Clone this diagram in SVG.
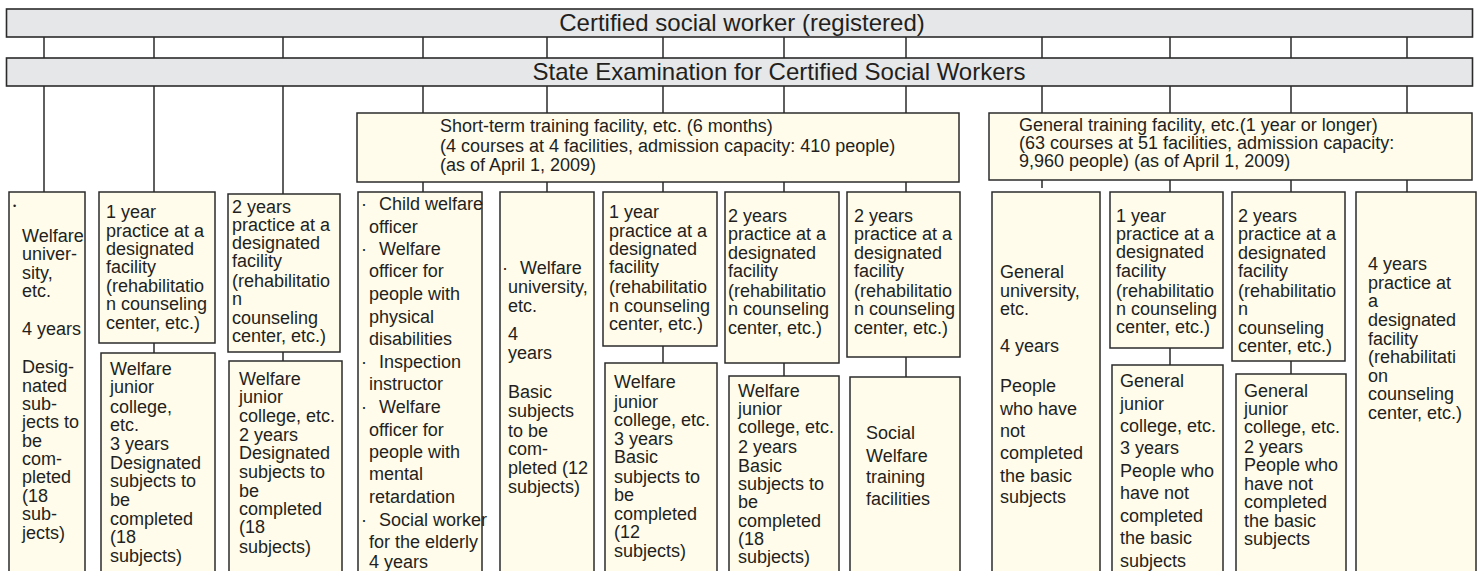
<svg xmlns="http://www.w3.org/2000/svg" width="1482" height="571" viewBox="0 0 1482 571">
<style>
.bar{fill:#e6e7e8;stroke:#2b2b2b;stroke-width:1.6}
.b{fill:#fffcec;stroke:#2b2b2b;stroke-width:1.5}
.c{stroke:#2b2b2b;stroke-width:1.5;fill:none}
text{font-family:"Liberation Sans",Arial,sans-serif;fill:#231f20;font-size:18px}
.h{font-size:24px}
.dot{font-size:9px}
</style>
<rect width="1482" height="571" fill="#ffffff"/>
<g id="connectors" class="c">
<path d="M44 37V58M154 37V58M283 37V58M423 37V58M547 37V58M663 37V58M784 37V58M906 37V58M1042 37V58M1170 37V58M1291 37V58M1407 37V58"/>
<path d="M44 86V192M154 86V192M283 86V194"/>
<path d="M423 86V113M547 86V113M663 86V113M784 86V113M906 86V113"/>
<path d="M423 182V192M547 182V192M663 182V192M784 182V192M906 182V192"/>
<path d="M1042 86V113M1170 86V113M1291 86V113M1407 86V113"/>
<path d="M1042 180V188M1170 180V192M1291 180V192M1407 180V192"/>
<path d="M154 343V353M283 352V361M663 346V363M784 363V376M906 357V377M1170 348V365M1291 361V374"/>
</g>
<g id="n-registered"><rect class="bar" x="6.5" y="9" width="1466" height="28"/><text class="h" x="742" y="31" text-anchor="middle">Certified social worker (registered)</text></g>
<g id="n-exam"><rect class="bar" x="6.5" y="58" width="1466" height="28"/><text class="h" x="779" y="80" text-anchor="middle">State Examination for Certified Social Workers</text></g>
<g id="n-shortterm"><rect class="b" x="357" y="113" width="602" height="69"/><text><tspan x="440" y="132">Short-term training facility, etc. (6 months)</tspan><tspan x="440" y="152">(4 courses at 4 facilities, admission capacity: 410 people)</tspan><tspan x="440" y="171">(as of April 1, 2009)</tspan></text></g>
<g id="n-general"><rect class="b" x="989" y="113" width="483" height="67"/><text><tspan x="1019" y="131">General training facility, etc.(1 year or longer)</tspan><tspan x="1019" y="149">(63 courses at 51 facilities, admission capacity:</tspan><tspan x="1019" y="167">9,960 people)  (as of April 1, 2009)</tspan></text></g>
<g id="n1"><rect class="b" x="9" y="192" width="76" height="390"/><text class="dot" x="13" y="209">•</text><text><tspan x="22" y="242">Welfare</tspan><tspan x="22" y="260">univer-</tspan><tspan x="22" y="279">sity,</tspan><tspan x="22" y="297">etc.</tspan><tspan x="22" y="335">4 years</tspan><tspan x="22" y="373">Desig-</tspan><tspan x="22" y="392">nated</tspan><tspan x="22" y="410">sub-</tspan><tspan x="22" y="428">jects to</tspan><tspan x="22" y="447">be</tspan><tspan x="22" y="465">com-</tspan><tspan x="22" y="483">pleted</tspan><tspan x="22" y="502">(18</tspan><tspan x="22" y="520">sub-</tspan><tspan x="22" y="539">jects)</tspan></text></g>
<g id="n2a"><rect class="b" x="99" y="192" width="116" height="151"/><text><tspan x="106" y="218">1 year</tspan><tspan x="106" y="237">practice at a</tspan><tspan x="106" y="255">designated</tspan><tspan x="106" y="273">facility</tspan><tspan x="106" y="292">(rehabilitatio</tspan><tspan x="106" y="310">n counseling</tspan><tspan x="106" y="329">center, etc.)</tspan></text></g>
<g id="n2b"><rect class="b" x="101" y="353" width="114" height="229"/><text><tspan x="110" y="375">Welfare</tspan><tspan x="110" y="393">junior</tspan><tspan x="110" y="413">college,</tspan><tspan x="110" y="431">etc.</tspan><tspan x="110" y="450">3 years</tspan><tspan x="110" y="469">Designated</tspan><tspan x="110" y="487">subjects to</tspan><tspan x="110" y="506">be</tspan><tspan x="110" y="525">completed</tspan><tspan x="110" y="543">(18</tspan><tspan x="110" y="562">subjects)</tspan></text></g>
<g id="n3a"><rect class="b" x="228" y="194" width="112" height="158"/><text><tspan x="232" y="213">2 years</tspan><tspan x="232" y="231">practice at a</tspan><tspan x="232" y="249">designated</tspan><tspan x="232" y="267">facility</tspan><tspan x="232" y="287">(rehabilitatio</tspan><tspan x="232" y="305">n</tspan><tspan x="232" y="324">counseling</tspan><tspan x="232" y="342">center, etc.)</tspan></text></g>
<g id="n3b"><rect class="b" x="229" y="361" width="113" height="221"/><text><tspan x="239" y="385">Welfare</tspan><tspan x="239" y="403">junior</tspan><tspan x="239" y="422">college, etc.</tspan><tspan x="239" y="441">2 years</tspan><tspan x="239" y="459">Designated</tspan><tspan x="239" y="478">subjects to</tspan><tspan x="239" y="497">be</tspan><tspan x="239" y="515">completed</tspan><tspan x="239" y="533">(18</tspan><tspan x="239" y="553">subjects)</tspan></text></g>
<g id="n4"><rect class="b" x="358" y="192" width="124" height="390"/><text><tspan x="361" y="210">·</tspan><tspan x="379" y="210">Child welfare</tspan><tspan x="369" y="233">officer</tspan><tspan x="361" y="255">·</tspan><tspan x="379" y="255">Welfare</tspan><tspan x="369" y="277">officer for</tspan><tspan x="369" y="300">people with</tspan><tspan x="369" y="323">physical</tspan><tspan x="369" y="345">disabilities</tspan><tspan x="361" y="368">·</tspan><tspan x="379" y="368">Inspection</tspan><tspan x="369" y="390">instructor</tspan><tspan x="361" y="413">·</tspan><tspan x="379" y="413">Welfare</tspan><tspan x="369" y="436">officer for</tspan><tspan x="369" y="458">people with</tspan><tspan x="369" y="480">mental</tspan><tspan x="369" y="503">retardation</tspan><tspan x="361" y="526">·</tspan><tspan x="379" y="526">Social worker</tspan><tspan x="369" y="548">for the elderly</tspan><tspan x="369" y="568">4 years</tspan></text></g>
<g id="n5"><rect class="b" x="500" y="192" width="94" height="390"/><text><tspan x="502" y="274">·</tspan><tspan x="520" y="274">Welfare</tspan><tspan x="508" y="293">university,</tspan><tspan x="508" y="312">etc.</tspan><tspan x="508" y="340">4</tspan><tspan x="508" y="359">years</tspan><tspan x="508" y="398">Basic</tspan><tspan x="508" y="417">subjects</tspan><tspan x="508" y="437">to be</tspan><tspan x="508" y="455">com-</tspan><tspan x="508" y="474">pleted (12</tspan><tspan x="508" y="493">subjects)</tspan></text></g>
<g id="n6a"><rect class="b" x="603" y="192" width="114" height="154"/><text><tspan x="609" y="218">1 year</tspan><tspan x="609" y="237">practice at a</tspan><tspan x="609" y="255">designated</tspan><tspan x="609" y="273">facility</tspan><tspan x="609" y="293">(rehabilitatio</tspan><tspan x="609" y="312">n counseling</tspan><tspan x="609" y="330">center, etc.)</tspan></text></g>
<g id="n6b"><rect class="b" x="605" y="363" width="112" height="219"/><text><tspan x="614" y="388">Welfare</tspan><tspan x="614" y="408">junior</tspan><tspan x="614" y="426">college, etc.</tspan><tspan x="614" y="445">3 years</tspan><tspan x="614" y="463">Basic</tspan><tspan x="614" y="483">subjects to</tspan><tspan x="614" y="501">be</tspan><tspan x="614" y="520">completed</tspan><tspan x="614" y="538">(12</tspan><tspan x="614" y="557">subjects)</tspan></text></g>
<g id="n7a"><rect class="b" x="725" y="192" width="114" height="171"/><text><tspan x="728" y="222">2 years</tspan><tspan x="728" y="240">practice at a</tspan><tspan x="728" y="259">designated</tspan><tspan x="728" y="277">facility</tspan><tspan x="728" y="297">(rehabilitatio</tspan><tspan x="728" y="315">n counseling</tspan><tspan x="728" y="334">center, etc.)</tspan></text></g>
<g id="n7b"><rect class="b" x="729" y="376" width="110" height="206"/><text><tspan x="738" y="397">Welfare</tspan><tspan x="738" y="415">junior</tspan><tspan x="738" y="433">college, etc.</tspan><tspan x="738" y="453">2 years</tspan><tspan x="738" y="472">Basic</tspan><tspan x="738" y="490">subjects to</tspan><tspan x="738" y="508">be</tspan><tspan x="738" y="527">completed</tspan><tspan x="738" y="545">(18</tspan><tspan x="738" y="563">subjects)</tspan></text></g>
<g id="n8a"><rect class="b" x="847" y="192" width="113" height="165"/><text><tspan x="854" y="222">2 years</tspan><tspan x="854" y="240">practice at a</tspan><tspan x="854" y="259">designated</tspan><tspan x="854" y="277">facility</tspan><tspan x="854" y="297">(rehabilitatio</tspan><tspan x="854" y="315">n counseling</tspan><tspan x="854" y="334">center, etc.)</tspan></text></g>
<g id="n8b"><rect class="b" x="850" y="377" width="110" height="205"/><text><tspan x="866" y="439">Social</tspan><tspan x="866" y="462">Welfare</tspan><tspan x="866" y="483">training</tspan><tspan x="866" y="505">facilities</tspan></text></g>
<g id="n9"><rect class="b" x="992" y="192" width="108" height="390"/><text><tspan x="1000" y="278">General</tspan><tspan x="1000" y="297">university,</tspan><tspan x="1000" y="315">etc.</tspan><tspan x="1000" y="352">4 years</tspan><tspan x="1000" y="392">People</tspan><tspan x="1000" y="415">who have</tspan><tspan x="1000" y="437">not</tspan><tspan x="1000" y="459">completed</tspan><tspan x="1000" y="482">the basic</tspan><tspan x="1000" y="503">subjects</tspan></text></g>
<g id="n10a"><rect class="b" x="1110" y="192" width="113" height="156"/><text><tspan x="1116" y="222">1 year</tspan><tspan x="1116" y="240">practice at a</tspan><tspan x="1116" y="258">designated</tspan><tspan x="1116" y="277">facility</tspan><tspan x="1116" y="297">(rehabilitatio</tspan><tspan x="1116" y="315">n counseling</tspan><tspan x="1116" y="333">center, etc.)</tspan></text></g>
<g id="n10b"><rect class="b" x="1112" y="365" width="111" height="217"/><text><tspan x="1120" y="387">General</tspan><tspan x="1120" y="410">junior</tspan><tspan x="1120" y="432">college, etc.</tspan><tspan x="1120" y="454">3 years</tspan><tspan x="1120" y="477">People who</tspan><tspan x="1120" y="499">have not</tspan><tspan x="1120" y="522">completed</tspan><tspan x="1120" y="544">the basic</tspan><tspan x="1120" y="567">subjects</tspan></text></g>
<g id="n11a"><rect class="b" x="1232" y="192" width="113" height="169"/><text><tspan x="1238" y="222">2 years</tspan><tspan x="1238" y="240">practice at a</tspan><tspan x="1238" y="259">designated</tspan><tspan x="1238" y="277">facility</tspan><tspan x="1238" y="297">(rehabilitatio</tspan><tspan x="1238" y="315">n</tspan><tspan x="1238" y="334">counseling</tspan><tspan x="1238" y="352">center, etc.)</tspan></text></g>
<g id="n11b"><rect class="b" x="1236" y="374" width="110" height="208"/><text><tspan x="1244" y="397">General</tspan><tspan x="1244" y="415">junior</tspan><tspan x="1244" y="433">college, etc.</tspan><tspan x="1244" y="453">2 years</tspan><tspan x="1244" y="471">People who</tspan><tspan x="1244" y="490">have not</tspan><tspan x="1244" y="508">completed</tspan><tspan x="1244" y="527">the basic</tspan><tspan x="1244" y="545">subjects</tspan></text></g>
<g id="n12"><rect class="b" x="1356" y="192" width="120" height="390"/><text><tspan x="1368" y="270">4 years</tspan><tspan x="1368" y="289">practice at</tspan><tspan x="1368" y="307">a</tspan><tspan x="1368" y="326">designated</tspan><tspan x="1368" y="345">facility</tspan><tspan x="1368" y="363">(rehabilitati</tspan><tspan x="1368" y="382">on</tspan><tspan x="1368" y="400">counseling</tspan><tspan x="1368" y="419">center, etc.)</tspan></text></g>
</svg>
